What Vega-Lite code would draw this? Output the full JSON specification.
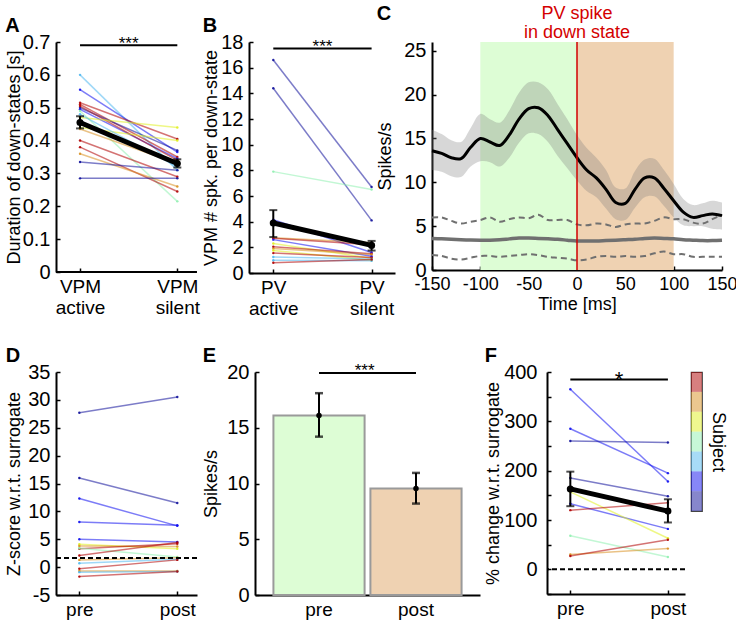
{
  "$schema": "https://vega.github.io/schema/vega-lite/v6.json",
  "background": "white",
  "padding": {"top": 3, "left": 5, "right": 5, "bottom": 5},
  "config": {
    "font": "Liberation Sans",
    "view": {"stroke": null},
    "axis": {"domainColor": "#000", "domainWidth": 2, "tickColor": "#000", "tickSize": -4, "tickWidth": 1.5, "labelFontSize": 20, "titleFontSize": 18, "titleFontWeight": "normal", "labelColor": "#000", "titleColor": "#000", "grid": false, "labelPadding": 10, "labelFlush": false, "labelOverlap": false, "labelBound": false, "labelFont": "Liberation Sans", "titleFont": "Liberation Sans"},
    "axisX": {"labelLineHeight": 21, "labelPadding": 9},
    "title": {"fontSize": 20, "fontWeight": "bold", "anchor": "start", "font": "Liberation Sans", "offset": 8, "color": "#000"},
    "text": {"font": "Liberation Sans"}
  },
  "datasets": {
    "a": [
      {"id":1,"s":3,"c":0,"v":0.6},{"id":1,"s":3,"c":1,"v":0.31},
      {"id":2,"s":2,"c":0,"v":0.555},{"id":2,"s":2,"c":1,"v":0.365},
      {"id":3,"s":7,"c":0,"v":0.515},{"id":3,"s":7,"c":1,"v":0.405},
      {"id":4,"s":7,"c":0,"v":0.51},{"id":4,"s":7,"c":1,"v":0.35},
      {"id":5,"s":1,"c":0,"v":0.5},{"id":5,"s":1,"c":1,"v":0.37},
      {"id":6,"s":2,"c":0,"v":0.495},{"id":6,"s":2,"c":1,"v":0.345},
      {"id":7,"s":7,"c":0,"v":0.505},{"id":7,"s":7,"c":1,"v":0.34},
      {"id":8,"s":5,"c":0,"v":0.47},{"id":8,"s":5,"c":1,"v":0.44},
      {"id":9,"s":4,"c":0,"v":0.49},{"id":9,"s":4,"c":1,"v":0.215},
      {"id":10,"s":5,"c":0,"v":0.44},{"id":10,"s":5,"c":1,"v":0.4},
      {"id":11,"s":3,"c":0,"v":0.48},{"id":11,"s":3,"c":1,"v":0.32},
      {"id":12,"s":7,"c":0,"v":0.4},{"id":12,"s":7,"c":1,"v":0.29},
      {"id":13,"s":7,"c":0,"v":0.38},{"id":13,"s":7,"c":1,"v":0.245},
      {"id":14,"s":6,"c":0,"v":0.36},{"id":14,"s":6,"c":1,"v":0.26},
      {"id":15,"s":1,"c":0,"v":0.335},{"id":15,"s":1,"c":1,"v":0.31},
      {"id":16,"s":1,"c":0,"v":0.285},{"id":16,"s":1,"c":1,"v":0.285},
      {"id":17,"s":6,"c":0,"v":0.435},{"id":17,"s":6,"c":1,"v":0.33}
    ],
    "am": [{"c":0,"v":0.455,"lo":0.437,"hi":0.474},{"c":1,"v":0.33,"lo":0.318,"hi":0.343}],
    "as": [{"c0":0,"c1":1,"m":0.5,"y":0.69,"t":"***"}],
    "ax": [{"x0":-0.247,"x1":1.202,"y":0}],
    "b": [
      {"id":1,"s":1,"c":0,"v":16.6},{"id":1,"s":1,"c":1,"v":6.7},
      {"id":2,"s":1,"c":0,"v":14.4},{"id":2,"s":1,"c":1,"v":4.1},
      {"id":3,"s":4,"c":0,"v":7.9},{"id":3,"s":4,"c":1,"v":6.5},
      {"id":4,"s":2,"c":0,"v":4.15},{"id":4,"s":2,"c":1,"v":1.6},
      {"id":5,"s":6,"c":0,"v":2.75},{"id":5,"s":6,"c":1,"v":2.35},
      {"id":6,"s":7,"c":0,"v":2.7},{"id":6,"s":7,"c":1,"v":2.2},
      {"id":7,"s":2,"c":0,"v":2.6},{"id":7,"s":2,"c":1,"v":1.3},
      {"id":8,"s":5,"c":0,"v":2.3},{"id":8,"s":5,"c":1,"v":1.15},
      {"id":9,"s":7,"c":0,"v":2.05},{"id":9,"s":7,"c":1,"v":1.5},
      {"id":10,"s":6,"c":0,"v":1.9},{"id":10,"s":6,"c":1,"v":1.45},
      {"id":11,"s":5,"c":0,"v":1.75},{"id":11,"s":5,"c":1,"v":1.0},
      {"id":12,"s":7,"c":0,"v":1.55},{"id":12,"s":7,"c":1,"v":1.2},
      {"id":13,"s":3,"c":0,"v":1.25},{"id":13,"s":3,"c":1,"v":1.1},
      {"id":14,"s":3,"c":0,"v":1.0},{"id":14,"s":3,"c":1,"v":0.95},
      {"id":15,"s":7,"c":0,"v":0.8},{"id":15,"s":7,"c":1,"v":1.05}
    ],
    "bm": [{"c":0,"v":3.9,"lo":2.8,"hi":4.9},{"c":1,"v":2.15,"lo":1.75,"hi":2.5}],
    "bs": [{"c0":0,"c1":1,"m":0.5,"y":17.5,"t":"***"}],
    "cr": [{"x0":-100,"x1":0,"k":"pre"},{"x0":0,"x1":100,"k":"post"}],
    "cv": [{"t":0,"y":25,"txt":"PV spike\nin down state"}],
    "c": [
      {"t":-150,"m":13.6,"lo":11.4,"hi":16.0,"s":3.6,"su":6.0,"sl":1.7},
      {"t":-140,"m":13.3,"lo":11.2,"hi":15.5,"s":3.55,"su":6.0,"sl":1.6},
      {"t":-130,"m":12.8,"lo":10.7,"hi":14.8,"s":3.5,"su":5.6,"sl":1.3},
      {"t":-120,"m":12.7,"lo":10.6,"hi":14.6,"s":3.45,"su":5.3,"sl":1.2},
      {"t":-110,"m":14.0,"lo":11.8,"hi":16.2,"s":3.42,"su":5.5,"sl":1.4},
      {"t":-100,"m":15.0,"lo":12.4,"hi":17.8,"s":3.4,"su":5.7,"sl":1.6},
      {"t":-90,"m":14.6,"lo":12.3,"hi":17.2,"s":3.4,"su":6.0,"sl":1.6},
      {"t":-80,"m":14.2,"lo":11.8,"hi":16.8,"s":3.45,"su":5.5,"sl":1.5},
      {"t":-70,"m":15.4,"lo":12.8,"hi":18.2,"s":3.55,"su":5.8,"sl":1.6},
      {"t":-60,"m":17.2,"lo":14.5,"hi":20.2,"s":3.65,"su":6.0,"sl":1.7},
      {"t":-50,"m":18.4,"lo":15.6,"hi":21.4,"s":3.65,"su":5.9,"sl":1.8},
      {"t":-40,"m":18.5,"lo":15.5,"hi":21.4,"s":3.6,"su":6.3,"sl":1.7},
      {"t":-30,"m":17.6,"lo":14.6,"hi":20.6,"s":3.55,"su":5.7,"sl":1.5},
      {"t":-20,"m":16.0,"lo":13.0,"hi":18.9,"s":3.5,"su":5.7,"sl":1.4},
      {"t":-10,"m":14.4,"lo":11.6,"hi":17.2,"s":3.4,"su":5.7,"sl":1.3},
      {"t":0,"m":12.8,"lo":10.2,"hi":15.4,"s":3.3,"su":5.2,"sl":1.1},
      {"t":10,"m":11.4,"lo":9.0,"hi":13.9,"s":3.3,"su":5.1,"sl":1.2},
      {"t":20,"m":10.5,"lo":8.3,"hi":12.8,"s":3.3,"su":5.3,"sl":1.5},
      {"t":30,"m":9.2,"lo":7.0,"hi":11.4,"s":3.35,"su":5.2,"sl":1.6},
      {"t":40,"m":7.7,"lo":5.8,"hi":9.4,"s":3.4,"su":4.9,"sl":1.5},
      {"t":50,"m":7.6,"lo":5.7,"hi":9.3,"s":3.45,"su":5.2,"sl":1.6},
      {"t":60,"m":9.2,"lo":7.1,"hi":11.3,"s":3.5,"su":5.3,"sl":1.5},
      {"t":70,"m":10.5,"lo":8.3,"hi":12.6,"s":3.6,"su":5.3,"sl":1.6},
      {"t":80,"m":10.5,"lo":8.4,"hi":12.7,"s":3.65,"su":5.6,"sl":1.9},
      {"t":90,"m":9.3,"lo":7.3,"hi":11.4,"s":3.6,"su":6.0,"sl":2.1},
      {"t":100,"m":7.9,"lo":6.0,"hi":9.8,"s":3.55,"su":5.8,"sl":1.8},
      {"t":110,"m":6.6,"lo":5.1,"hi":8.1,"s":3.45,"su":5.8,"sl":1.8},
      {"t":120,"m":6.0,"lo":5.0,"hi":7.4,"s":3.4,"su":5.4,"sl":1.5},
      {"t":130,"m":6.2,"lo":5.0,"hi":7.6,"s":3.35,"su":5.3,"sl":1.5},
      {"t":140,"m":6.4,"lo":4.7,"hi":7.9,"s":3.35,"su":5.8,"sl":1.5},
      {"t":150,"m":6.2,"lo":4.6,"hi":7.7,"s":3.4,"su":6.3,"sl":1.5}
    ],
    "d": [
      {"id":1,"s":1,"c":0,"v":27.7},{"id":1,"s":1,"c":1,"v":30.5},
      {"id":2,"s":1,"c":0,"v":16.0},{"id":2,"s":1,"c":1,"v":11.5},
      {"id":3,"s":2,"c":0,"v":12.3},{"id":3,"s":2,"c":1,"v":7.4},
      {"id":4,"s":2,"c":0,"v":8.1},{"id":4,"s":2,"c":1,"v":7.5},
      {"id":5,"s":2,"c":0,"v":5.0},{"id":5,"s":2,"c":1,"v":4.5},
      {"id":6,"s":5,"c":0,"v":4.1},{"id":6,"s":5,"c":1,"v":3.3},
      {"id":7,"s":6,"c":0,"v":3.8},{"id":7,"s":6,"c":1,"v":3.7},
      {"id":8,"s":7,"c":0,"v":3.3},{"id":8,"s":7,"c":1,"v":4.2},
      {"id":9,"s":4,"c":0,"v":3.4},{"id":9,"s":4,"c":1,"v":1.8},
      {"id":10,"s":7,"c":0,"v":2.1},{"id":10,"s":7,"c":1,"v":4.4},
      {"id":11,"s":6,"c":0,"v":1.3},{"id":11,"s":6,"c":1,"v":1.7},
      {"id":12,"s":3,"c":0,"v":0.7},{"id":12,"s":3,"c":1,"v":1.4},
      {"id":13,"s":7,"c":0,"v":-0.3},{"id":13,"s":7,"c":1,"v":1.3},
      {"id":14,"s":6,"c":0,"v":-0.7},{"id":14,"s":6,"c":1,"v":-0.7},
      {"id":15,"s":3,"c":0,"v":-0.9},{"id":15,"s":3,"c":1,"v":-0.8},
      {"id":16,"s":7,"c":0,"v":-1.7},{"id":16,"s":7,"c":1,"v":-0.8}
    ],
    "dt": [{"y":1.65}],
    "e": [{"c":"pre","v":16.1,"lo":14.2,"hi":18.1},{"c":"post","v":9.55,"lo":8.2,"hi":10.95}],
    "es": [{"c":"pre","y":19.9,"t":"***"},{"c":"post","y":19.9,"t":"***"}],
    "f": [
      {"id":1,"s":2,"c":0,"v":365},{"id":1,"s":2,"c":1,"v":178},
      {"id":2,"s":2,"c":0,"v":285},{"id":2,"s":2,"c":1,"v":195},
      {"id":3,"s":1,"c":0,"v":260},{"id":3,"s":1,"c":1,"v":257},
      {"id":4,"s":1,"c":0,"v":185},{"id":4,"s":1,"c":1,"v":148},
      {"id":5,"s":2,"c":0,"v":133},{"id":5,"s":2,"c":1,"v":82},
      {"id":6,"s":5,"c":0,"v":157},{"id":6,"s":5,"c":1,"v":63},
      {"id":7,"s":7,"c":0,"v":120},{"id":7,"s":7,"c":1,"v":135},
      {"id":8,"s":4,"c":0,"v":68},{"id":8,"s":4,"c":1,"v":25},
      {"id":9,"s":6,"c":0,"v":30},{"id":9,"s":6,"c":1,"v":42},
      {"id":10,"s":7,"c":0,"v":27},{"id":10,"s":7,"c":1,"v":60}
    ],
    "fm": [{"c":0,"v":163,"lo":128,"hi":198},{"c":1,"v":118,"lo":95,"hi":142}],
    "fs": [{"c0":0,"c1":1,"m":0.5,"y":385,"t":"*"}],
    "ft": [{"y":0}],
    "cb": [{"s":1},{"s":2},{"s":3},{"s":4},{"s":5},{"s":6},{"s":7}]
  },
  "vconcat": [
    {
      "hconcat": [
        {
          "title": {"text": "A", "offset": -4},
          "width": 165, "height": 230,
          "layer": [
            {"data": {"name": "a"}, "mark": {"type": "line", "strokeWidth": 1.5, "opacity": 0.55},
             "encoding": {
               "x": {"field": "c", "type": "quantitative", "scale": {"domain": [-0.247, 1.449], "nice": false, "zero": false}, "axis": {"values": [0, 1], "title": null, "domain": false, "labelFontSize": 19, "labelOverlap": false, "labelExpr": "datum.value == 0 ? ['VPM', 'active'] : ['VPM', 'silent']"}},
               "y": {"field": "v", "type": "quantitative", "scale": {"domain": [0, 0.7]}, "axis": {"values": [0, 0.1, 0.2, 0.3, 0.4, 0.5, 0.6, 0.7], "tickCount": 50, "labelOverlap": false, "labelExpr": "datum.value + ''", "title": "Duration of down-states [s]", "titlePadding": -1}},
               "color": {"field": "s", "type": "ordinal", "scale": {"domain": [1,2,3,4,5,6,7], "range": ["#10109a","#1010f0","#50b8f0","#90f0b0","#e0f020","#d89020","#b00000"]}, "legend": null},
               "detail": {"field": "id"}}},
            {"data": {"name": "ax"}, "mark": {"type": "rule", "color": "#000", "strokeWidth": 2},
             "encoding": {"x": {"field": "x0", "type": "quantitative"}, "x2": {"field": "x1"}, "y": {"field": "y", "type": "quantitative"}}},
            {"data": {"name": "a"}, "mark": {"type": "point", "filled": true, "size": 6, "opacity": 0.9},
             "encoding": {"x": {"field": "c", "type": "quantitative"}, "y": {"field": "v", "type": "quantitative"},
               "color": {"field": "s", "type": "ordinal", "scale": {"domain": [1,2,3,4,5,6,7], "range": ["#10109a","#1010f0","#50b8f0","#90f0b0","#e0f020","#d89020","#b00000"]}, "legend": null}}},
            {"data": {"name": "am"}, "mark": {"type": "line", "color": "#000", "strokeWidth": 5},
             "encoding": {"x": {"field": "c", "type": "quantitative"}, "y": {"field": "v", "type": "quantitative"}}},
            {"data": {"name": "am"}, "mark": {"type": "rule", "color": "#000", "strokeWidth": 2},
             "encoding": {"x": {"field": "c", "type": "quantitative"}, "y": {"field": "lo", "type": "quantitative"}, "y2": {"field": "hi"}}},
            {"data": {"name": "am"}, "mark": {"type": "tick", "orient": "horizontal", "color": "#000", "size": 8, "thickness": 2},
             "encoding": {"x": {"field": "c", "type": "quantitative"}, "y": {"field": "lo", "type": "quantitative"}}},
            {"data": {"name": "am"}, "mark": {"type": "tick", "orient": "horizontal", "color": "#000", "size": 8, "thickness": 2},
             "encoding": {"x": {"field": "c", "type": "quantitative"}, "y": {"field": "hi", "type": "quantitative"}}},
            {"data": {"name": "am"}, "mark": {"type": "point", "filled": true, "color": "#000", "size": 50, "opacity": 1},
             "encoding": {"x": {"field": "c", "type": "quantitative"}, "y": {"field": "v", "type": "quantitative"}}},
            {"data": {"name": "as"}, "mark": {"type": "rule", "color": "#000", "strokeWidth": 2},
             "encoding": {"x": {"field": "c0", "type": "quantitative"}, "x2": {"field": "c1"}, "y": {"field": "y", "type": "quantitative"}}},
            {"data": {"name": "as"}, "mark": {"type": "text", "fontSize": 17, "baseline": "alphabetic", "dy": 4, "color": "#000"},
             "encoding": {"x": {"field": "m", "type": "quantitative"}, "y": {"field": "y", "type": "quantitative"}, "text": {"field": "t"}}}
          ]
        },
        {
          "title": {"text": "B", "offset": -4},
          "width": 146, "height": 231,
          "layer": [
            {"data": {"name": "b"}, "mark": {"type": "line", "strokeWidth": 1.5, "opacity": 0.55},
             "encoding": {
               "x": {"field": "c", "type": "quantitative", "scale": {"domain": [-0.247, 1.238], "nice": false, "zero": false}, "axis": {"values": [0, 1], "title": null, "labelFontSize": 19, "labelOverlap": false, "labelExpr": "datum.value == 0 ? ['PV', 'active'] : ['PV', 'silent']"}},
               "y": {"field": "v", "type": "quantitative", "scale": {"domain": [0, 18]}, "axis": {"values": [0, 2, 4, 6, 8, 10, 12, 14, 16, 18], "tickCount": 50, "labelOverlap": false, "labelExpr": "datum.value + ''", "title": "VPM # spk. per down-state", "titlePadding": 0}},
               "color": {"field": "s", "type": "ordinal", "scale": {"domain": [1,2,3,4,5,6,7], "range": ["#10109a","#1010f0","#50b8f0","#90f0b0","#e0f020","#d89020","#b00000"]}, "legend": null},
               "detail": {"field": "id"}}},
            {"data": {"name": "b"}, "mark": {"type": "point", "filled": true, "size": 6, "opacity": 0.9},
             "encoding": {"x": {"field": "c", "type": "quantitative"}, "y": {"field": "v", "type": "quantitative"},
               "color": {"field": "s", "type": "ordinal", "scale": {"domain": [1,2,3,4,5,6,7], "range": ["#10109a","#1010f0","#50b8f0","#90f0b0","#e0f020","#d89020","#b00000"]}, "legend": null}}},
            {"data": {"name": "bm"}, "mark": {"type": "line", "color": "#000", "strokeWidth": 5},
             "encoding": {"x": {"field": "c", "type": "quantitative"}, "y": {"field": "v", "type": "quantitative"}}},
            {"data": {"name": "bm"}, "mark": {"type": "rule", "color": "#000", "strokeWidth": 2},
             "encoding": {"x": {"field": "c", "type": "quantitative"}, "y": {"field": "lo", "type": "quantitative"}, "y2": {"field": "hi"}}},
            {"data": {"name": "bm"}, "mark": {"type": "tick", "orient": "horizontal", "color": "#000", "size": 8, "thickness": 2},
             "encoding": {"x": {"field": "c", "type": "quantitative"}, "y": {"field": "lo", "type": "quantitative"}}},
            {"data": {"name": "bm"}, "mark": {"type": "tick", "orient": "horizontal", "color": "#000", "size": 8, "thickness": 2},
             "encoding": {"x": {"field": "c", "type": "quantitative"}, "y": {"field": "hi", "type": "quantitative"}}},
            {"data": {"name": "bm"}, "mark": {"type": "point", "filled": true, "color": "#000", "size": 50, "opacity": 1},
             "encoding": {"x": {"field": "c", "type": "quantitative"}, "y": {"field": "v", "type": "quantitative"}}},
            {"data": {"name": "bs"}, "mark": {"type": "rule", "color": "#000", "strokeWidth": 2},
             "encoding": {"x": {"field": "c0", "type": "quantitative"}, "x2": {"field": "c1"}, "y": {"field": "y", "type": "quantitative"}}},
            {"data": {"name": "bs"}, "mark": {"type": "text", "fontSize": 17, "baseline": "alphabetic", "dy": 4, "color": "#000"},
             "encoding": {"x": {"field": "m", "type": "quantitative"}, "y": {"field": "y", "type": "quantitative"}, "text": {"field": "t"}}}
          ]
        },
        {
          "title": {"text": "C", "offset": -19},
          "width": 290, "height": 228,
          "layer": [
            {"data": {"name": "cr"}, "mark": {"type": "rect"},
             "encoding": {
               "x": {"field": "x0", "type": "quantitative", "scale": {"domain": [-150, 150], "nice": false}, "axis": {"values": [-150, -100, -50, 0, 50, 100, 150], "labelFontSize": 18, "labelOverlap": false, "labelExpr": "datum.value + ''", "title": "Time [ms]", "titlePadding": 2}},
               "x2": {"field": "x1"},
               "fill": {"field": "k", "type": "nominal", "scale": {"domain": ["pre", "post"], "range": ["#ddfdd5", "#efd2b2"]}, "legend": null}}},
            {"data": {"name": "c"}, "mark": {"type": "area", "color": "#7a7a7a", "opacity": 0.3, "interpolate": "catmull-rom"},
             "encoding": {"x": {"field": "t", "type": "quantitative"}, "y": {"field": "lo", "type": "quantitative", "scale": {"domain": [0, 25]}, "axis": {"values": [0, 5, 10, 15, 20, 25], "tickCount": 50, "labelOverlap": false, "labelExpr": "datum.value + ''", "title": "Spikes/s", "titlePadding": 9}}, "y2": {"field": "hi"}}},
            {"data": {"name": "c"}, "mark": {"type": "line", "color": "#707070", "strokeWidth": 2, "strokeDash": [6, 4], "interpolate": "catmull-rom"},
             "encoding": {"x": {"field": "t", "type": "quantitative"}, "y": {"field": "su", "type": "quantitative"}}},
            {"data": {"name": "c"}, "mark": {"type": "line", "color": "#707070", "strokeWidth": 2, "strokeDash": [6, 4], "interpolate": "catmull-rom"},
             "encoding": {"x": {"field": "t", "type": "quantitative"}, "y": {"field": "sl", "type": "quantitative"}}},
            {"data": {"name": "c"}, "mark": {"type": "line", "color": "#707070", "strokeWidth": 3.5, "interpolate": "catmull-rom"},
             "encoding": {"x": {"field": "t", "type": "quantitative"}, "y": {"field": "s", "type": "quantitative"}}},
            {"data": {"name": "c"}, "mark": {"type": "line", "color": "#000", "strokeWidth": 3, "interpolate": "catmull-rom"},
             "encoding": {"x": {"field": "t", "type": "quantitative"}, "y": {"field": "m", "type": "quantitative"}}},
            {"data": {"name": "cv"}, "mark": {"type": "rule", "color": "#d00000", "strokeWidth": 1.5},
             "encoding": {"x": {"field": "t", "type": "quantitative"}}},
            {"data": {"name": "cv"}, "mark": {"type": "text", "color": "#d40000", "fontSize": 18, "lineHeight": 19, "lineBreak": "\n", "baseline": "bottom", "dy": -28},
             "encoding": {"x": {"field": "t", "type": "quantitative"}, "y": {"field": "y", "type": "quantitative"}, "text": {"field": "txt"}}}
          ]
        }
      ],
      "spacing": -19
    },
    {
      "hconcat": [
        {
          "title": {"text": "D", "offset": -4},
          "width": 141, "height": 223,
          "layer": [
            {"data": {"name": "d"}, "mark": {"type": "line", "strokeWidth": 1.5, "opacity": 0.55},
             "encoding": {
               "x": {"field": "c", "type": "quantitative", "scale": {"domain": [-0.238, 1.201], "nice": false, "zero": false}, "axis": {"values": [0, 1], "title": null, "labelFontSize": 19, "labelOverlap": false, "labelExpr": "datum.value == 0 ? 'pre' : 'post'"}},
               "y": {"field": "v", "type": "quantitative", "scale": {"domain": [-5, 35]}, "axis": {"values": [-5, 0, 5, 10, 15, 20, 25, 30, 35], "tickCount": 50, "labelOverlap": false, "labelExpr": "datum.value + ''", "title": "Z-score w.r.t. surrogate", "titlePadding": 4}},
               "color": {"field": "s", "type": "ordinal", "scale": {"domain": [1,2,3,4,5,6,7], "range": ["#10109a","#1010f0","#50b8f0","#90f0b0","#e0f020","#d89020","#b00000"]}, "legend": null},
               "detail": {"field": "id"}}},
            {"data": {"name": "d"}, "mark": {"type": "point", "filled": true, "size": 6, "opacity": 0.9},
             "encoding": {"x": {"field": "c", "type": "quantitative"}, "y": {"field": "v", "type": "quantitative"},
               "color": {"field": "s", "type": "ordinal", "scale": {"domain": [1,2,3,4,5,6,7], "range": ["#10109a","#1010f0","#50b8f0","#90f0b0","#e0f020","#d89020","#b00000"]}, "legend": null}}},
            {"data": {"name": "dt"}, "mark": {"type": "rule", "color": "#000", "strokeWidth": 2, "strokeDash": [5, 3]},
             "encoding": {"y": {"field": "y", "type": "quantitative"}}}
          ]
        },
        {
          "title": {"text": "E", "offset": -4},
          "width": 225, "height": 223,
          "layer": [
            {"data": {"name": "e"}, "mark": {"type": "bar", "stroke": "#9a9a9a", "strokeWidth": 2},
             "encoding": {
               "x": {"field": "c", "type": "nominal", "sort": ["pre", "post"], "scale": {"paddingInner": 0.06, "paddingOuter": 0.19}, "axis": {"title": null, "labelAngle": 0, "labelFontSize": 19, "labelOverlap": false}},
               "y": {"field": "v", "type": "quantitative", "scale": {"domain": [0, 20]}, "axis": {"values": [0, 5, 10, 15, 20], "tickCount": 50, "labelOverlap": false, "labelExpr": "datum.value + ''", "title": "Spikes/s", "titlePadding": 6}},
               "fill": {"field": "c", "type": "nominal", "scale": {"domain": ["pre", "post"], "range": ["#e0fdd8", "#e8c19c"]}, "legend": null}}},
            {"data": {"name": "e"}, "mark": {"type": "rule", "color": "#000", "strokeWidth": 2},
             "encoding": {"x": {"field": "c", "type": "nominal", "sort": ["pre", "post"]}, "y": {"field": "lo", "type": "quantitative"}, "y2": {"field": "hi"}}},
            {"data": {"name": "e"}, "mark": {"type": "tick", "orient": "horizontal", "color": "#000", "size": 8, "thickness": 2.5},
             "encoding": {"x": {"field": "c", "type": "nominal", "sort": ["pre", "post"]}, "y": {"field": "lo", "type": "quantitative"}}},
            {"data": {"name": "e"}, "mark": {"type": "tick", "orient": "horizontal", "color": "#000", "size": 8, "thickness": 2.5},
             "encoding": {"x": {"field": "c", "type": "nominal", "sort": ["pre", "post"]}, "y": {"field": "hi", "type": "quantitative"}}},
            {"data": {"name": "e"}, "mark": {"type": "point", "filled": true, "color": "#000", "size": 30, "opacity": 1},
             "encoding": {"x": {"field": "c", "type": "nominal", "sort": ["pre", "post"]}, "y": {"field": "v", "type": "quantitative"}}},
            {"data": {"name": "es"}, "mark": {"type": "line", "color": "#000", "strokeWidth": 2},
             "encoding": {"x": {"field": "c", "type": "nominal", "sort": ["pre", "post"]}, "y": {"field": "y", "type": "quantitative"}}},
            {"data": {"name": "es"}, "transform": [{"filter": "datum.c == 'pre'"}], "mark": {"type": "text", "fontSize": 17, "baseline": "alphabetic", "dy": 3, "color": "#000"},
             "encoding": {"x": {"field": "c", "type": "nominal", "sort": ["pre", "post"], "bandPosition": 1}, "y": {"field": "y", "type": "quantitative"}, "text": {"field": "t"}}}
          ]
        },
        {
          "title": {"text": "F", "offset": -4},
          "width": 138, "height": 222,
          "layer": [
            {"data": {"name": "f"}, "mark": {"type": "line", "strokeWidth": 1.5, "opacity": 0.55},
             "encoding": {
               "x": {"field": "c", "type": "quantitative", "scale": {"domain": [-0.239, 1.175], "nice": false, "zero": false}, "axis": {"values": [0, 1], "title": null, "labelFontSize": 19, "labelOverlap": false, "labelExpr": "datum.value == 0 ? 'pre' : 'post'"}},
               "y": {"field": "v", "type": "quantitative", "scale": {"domain": [-50, 400]}, "axis": {"values": [-50, 0, 50, 100, 150, 200, 250, 300, 350, 400], "tickCount": 50, "labelOverlap": false, "labelExpr": "(datum.value >= 0 && datum.value % 100 == 0) ? (datum.value + '') : ''", "title": "% change w.r.t. surrogate", "titlePadding": 1, "labelPadding": 14}},
               "color": {"field": "s", "type": "ordinal", "scale": {"domain": [1,2,3,4,5,6,7], "range": ["#10109a","#1010f0","#50b8f0","#90f0b0","#e0f020","#d89020","#b00000"]}, "legend": null},
               "detail": {"field": "id"}}},
            {"data": {"name": "f"}, "mark": {"type": "point", "filled": true, "size": 6, "opacity": 0.9},
             "encoding": {"x": {"field": "c", "type": "quantitative"}, "y": {"field": "v", "type": "quantitative"},
               "color": {"field": "s", "type": "ordinal", "scale": {"domain": [1,2,3,4,5,6,7], "range": ["#10109a","#1010f0","#50b8f0","#90f0b0","#e0f020","#d89020","#b00000"]}, "legend": null}}},
            {"data": {"name": "ft"}, "mark": {"type": "rule", "color": "#000", "strokeWidth": 2, "strokeDash": [5, 3]},
             "encoding": {"y": {"field": "y", "type": "quantitative"}}},
            {"data": {"name": "fm"}, "mark": {"type": "line", "color": "#000", "strokeWidth": 5},
             "encoding": {"x": {"field": "c", "type": "quantitative"}, "y": {"field": "v", "type": "quantitative"}}},
            {"data": {"name": "fm"}, "mark": {"type": "rule", "color": "#000", "strokeWidth": 2},
             "encoding": {"x": {"field": "c", "type": "quantitative"}, "y": {"field": "lo", "type": "quantitative"}, "y2": {"field": "hi"}}},
            {"data": {"name": "fm"}, "mark": {"type": "tick", "orient": "horizontal", "color": "#000", "size": 8, "thickness": 2},
             "encoding": {"x": {"field": "c", "type": "quantitative"}, "y": {"field": "lo", "type": "quantitative"}}},
            {"data": {"name": "fm"}, "mark": {"type": "tick", "orient": "horizontal", "color": "#000", "size": 8, "thickness": 2},
             "encoding": {"x": {"field": "c", "type": "quantitative"}, "y": {"field": "hi", "type": "quantitative"}}},
            {"data": {"name": "fm"}, "mark": {"type": "point", "filled": true, "color": "#000", "size": 50, "opacity": 1},
             "encoding": {"x": {"field": "c", "type": "quantitative"}, "y": {"field": "v", "type": "quantitative"}}},
            {"data": {"name": "fs"}, "mark": {"type": "rule", "color": "#000", "strokeWidth": 2},
             "encoding": {"x": {"field": "c0", "type": "quantitative"}, "x2": {"field": "c1"}, "y": {"field": "y", "type": "quantitative"}}},
            {"data": {"name": "fs"}, "mark": {"type": "text", "fontSize": 22, "baseline": "alphabetic", "dy": 8, "color": "#000"},
             "encoding": {"x": {"field": "m", "type": "quantitative"}, "y": {"field": "y", "type": "quantitative"}, "text": {"field": "t"}}}
          ]
        },
        {
          "width": 11, "height": 139,
          "view": {"stroke": "#444", "strokeWidth": 1.2},
          "data": {"name": "cb"},
          "mark": {"type": "rect", "opacity": 0.5},
          "encoding": {
            "y": {"field": "s", "type": "ordinal", "sort": "descending", "scale": {"paddingInner": 0, "paddingOuter": 0}, "axis": {"orient": "right", "title": "Subject", "labels": false, "ticks": false, "domain": false, "titlePadding": 6}},
            "color": {"field": "s", "type": "ordinal", "scale": {"domain": [1,2,3,4,5,6,7], "range": ["#10109a","#1010f0","#50b8f0","#90f0b0","#e0f020","#d89020","#b00000"]}, "legend": null}
          }
        }
      ],
      "spacing": 4
    }
  ],
  "spacing": 28
}
